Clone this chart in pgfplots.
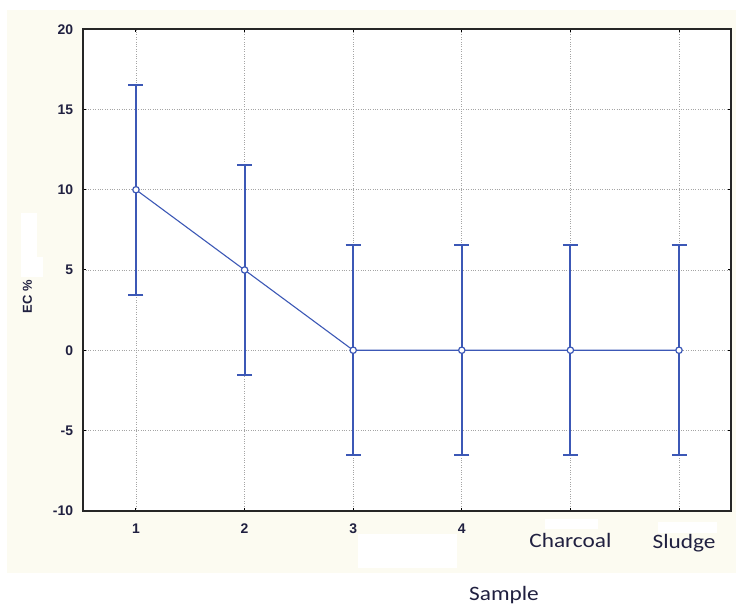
\documentclass[border=0pt]{standalone}
\usepackage{pgfplots}
\pgfplotsset{compat=1.18}
\usepackage{pgfplotstable}
\usepackage{graphicx}
\usepackage{fontspec}
\setmainfont{Liberation Sans}
\newfontfamily\calib{Carlito}
\definecolor{cream}{RGB}{252,251,241}
\definecolor{ebblue}{RGB}{60,88,182}
\definecolor{txt}{RGB}{32,32,64}
\definecolor{gridc}{RGB}{165,165,165}
\pgfdeclarelayer{background}
\pgfsetlayers{background,main}
\pgfplotstableread{
x y e
1 10 6.55
2 5 6.53
3 0 6.55
4 0 6.55
5 0 6.55
6 0 6.55
}\ecdata
\begin{document}
\begin{tikzpicture}
\begin{axis}[
  scale only axis, width=647.4bp, height=481.4bp,
  xmin=0.515, xmax=6.476, ymin=-10, ymax=20,
  xtick={1,2,3,4,5,6}, xticklabels={1,2,3,4,,},
  ytick={-10,-5,0,5,10,15,20}, yticklabels={-10,-5,0,5,10,15,20},
  axis background/.style={fill=white},
  grid=major, grid style={dotted, gridc, line width=0.9bp},
  axis line style={line width=1.6bp, black!85},
  tick style={black, line width=1bp}, major tick length=3bp, tick align=inside,
  tick label style={font=\bfseries\fontsize{14}{14}\selectfont, text=txt, inner sep=0pt},
  xticklabel style={yshift=-12.6bp},
  yticklabel style={xshift=-10bp},
  clip=false,
]
\addplot[color=ebblue, line width=1.1bp,
  mark=*, mark size=3.2bp, mark options={fill=white, draw=ebblue, line width=1.2bp},
  error bars/.cd, y dir=both, y explicit, error mark=|,
  error bar style={line width=2bp, color=ebblue},
  error mark options={line width=2bp, mark size=7.5bp, color=ebblue}]
  table[x=x, y=y, y error=e] {\ecdata};
\draw[line width=1.8bp, black!85] (rel axis cs:0,0) rectangle (rel axis cs:1,1);
\node[font=\calib\fontsize{20.5}{20.5}\selectfont, text=txt, anchor=base, yshift=-37bp] at (axis cs:5,-10) {\scalebox{1.14}[1]{Charcoal}};
\node[font=\calib\fontsize{20.5}{20.5}\selectfont, text=txt, anchor=base, yshift=-37.5bp, xshift=5bp] at (axis cs:6,-10) {\scalebox{1.14}[1]{Sludge}};
\coordinate (SW) at (rel axis cs:0,0);
\end{axis}
\begin{scope}[shift={(SW)}, x=1bp, y=1bp]
\begin{scope}[shift={(-83.3,-95.3)}]
\pgfresetboundingbox
\useasboundingbox (0,0) rectangle (736,606);
\begin{pgfonlayer}{background}
\fill[white] (0,0) rectangle (736,606);
\fill[cream] (7.3,33.3) rectangle (736,596);
\fill[white] (20.7,349) rectangle (37.3,393);
\fill[white] (20.7,329) rectangle (42.7,349);
\fill[white] (358,38) rectangle (457,72);
\fill[white] (545,77) rectangle (598,87);
\fill[white] (658,73) rectangle (717,84);
\end{pgfonlayer}
\node[font=\calib\fontsize{20.5}{20.5}\selectfont, text=txt, anchor=base] at (504,5) {\scalebox{1.14}[1]{Sample}};
\node[rotate=90, font=\bfseries\fontsize{13}{13}\selectfont, text=txt] at (27.5,309.5) {EC \%};
\end{scope}
\end{scope}
\end{tikzpicture}
\end{document}
